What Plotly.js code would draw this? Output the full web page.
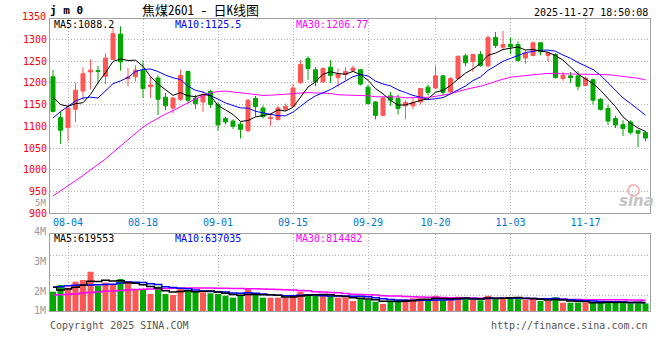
<!DOCTYPE html>
<html><head><meta charset="utf-8">
<script src="https://cdn.plot.ly/plotly-3.0.1.min.js"></script>
<style>html,body{margin:0;padding:0;background:#fff}#chart{width:660px;height:360px}</style>
</head><body><div id="chart"></div>
<script>
// ---- data ----
const dates = ['07-31','08-01',
 '08-04','08-05','08-06','08-07','08-08','08-11','08-12','08-13','08-14','08-15',
 '08-18','08-19','08-20','08-21','08-22','08-25','08-26','08-27','08-28','08-29',
 '09-01','09-02','09-03','09-04','09-05','09-08','09-09','09-10','09-11','09-12',
 '09-15','09-16','09-17','09-18','09-19','09-22','09-23','09-24','09-25','09-26',
 '09-29','09-30','10-09','10-10','10-13','10-14','10-15','10-16','10-17',
 '10-20','10-21','10-22','10-23','10-24','10-27','10-28','10-29','10-30','10-31',
 '11-03','11-04','11-05','11-06','11-07','11-10','11-11','11-12','11-13','11-14',
 '11-17','11-18','11-19','11-20','11-21','11-24','11-25','11-26','11-27'];
const openP  = [1214,1120,1097,1139,1181,1225,1228,1215,1254,1312,1210,1214,1228,1191,1211,1167,1142,1162,1226,1165,
                1156,1180,1150,1118,1112,1105,1090,1164,1142,1118,1116,1139,1146,1200,1256,1230,1202,1236,1212,1219,
                1228,1230,1190,1156,1125,1170,1164,1147,1147,1156,1190,1188,1216,1179,1210,1262,1249,1265,1239,1304,
                1282,1288,1288,1257,1263,1292,1263,1265,1210,1216,1216,1194,1207,1162,1141,1118,1104,1110,1090,1086];
const highP  = [1230,1133,1150,1200,1236,1254,1239,1268,1327,1330,1234,1240,1252,1215,1217,1177,1167,1230,1228,1172,
                1180,1184,1156,1122,1116,1110,1163,1170,1148,1129,1147,1152,1198,1252,1261,1236,1236,1252,1233,1236,
                1240,1232,1196,1158,1167,1179,1173,1160,1165,1188,1196,1240,1218,1213,1263,1267,1267,1273,1309,1317,
                1319,1304,1295,1275,1295,1293,1270,1268,1225,1225,1227,1213,1210,1165,1150,1124,1114,1114,1092,1089];
const lowP   = [1132,1060,1066,1110,1161,1185,1197,1197,1252,1228,1192,1203,1165,1165,1126,1137,1130,1158,1152,1140,
                1133,1142,1090,1104,1094,1072,1086,1122,1118,1101,1113,1135,1144,1198,1207,1192,1200,1200,1190,1206,
                1225,1194,1150,1116,1124,1147,1127,1116,1139,1150,1171,1185,1171,1177,1207,1238,1225,1237,1236,1280,
                1275,1266,1249,1244,1261,1263,1248,1210,1204,1200,1183,1192,1150,1136,1103,1096,1078,1081,1052,1066];
const closeP = [1134,1091,1142,1183,1221,1229,1226,1257,1313,1248,1213,1229,1187,1195,1162,1147,1165,1217,1160,1152,
                1173,1150,1103,1110,1100,1093,1160,1145,1122,1120,1142,1146,1188,1242,1233,1202,1233,1217,1221,1226,
                1234,1197,1152,1125,1165,1160,1141,1155,1155,1187,1178,1216,1178,1210,1261,1246,1265,1240,1304,1286,
                1288,1283,1251,1269,1292,1271,1269,1212,1217,1212,1192,1211,1160,1139,1112,1103,1095,1086,1084,1073];
const volume = [1460000,1970000,1760000,2220000,2340000,2970000,1910000,2140000,1970000,2420000,
                2270000,1660000,1590000,1290000,1840000,1290000,1210000,1720000,1590000,1510000,
                1410000,1340000,1290000,1160000,1010000,1160000,1660000,1290000,1010000,1010000,
                1010000,1010000,1210000,1460000,1290000,1160000,1130000,1130000,1010000,1010000,
                 760000, 910000, 830000, 700000, 530000, 700000, 810000, 910000, 960000, 960000,
                 830000,1150000, 830000, 830000,1080000,1000000, 830000, 810000,1150000,1020000,
                1000000,1020000, 900000, 830000, 950000, 760000, 760000,1030000, 630000, 630000,
                 640000, 640000, 610000, 620000, 760000, 600000, 680000, 590000, 660000, 570000];
// moving-average values at the left edge (their windows start before the first bar)
const ma5Lead  = [1167,1150,1146,1152];
const ma10Lead = [1119,1134,1146,1158,1165,1167,1165,1182,1198];
const ma30Lead = [940,951,962,975,987,999,1012,1025,1040,1055,1070,1085,1098,1109,1119,1128,1136,1145,1155,1163,
                  1170,1177,1180,1181,1179,1177,1174,1172,1171];
const volMa5Lead  = [1790000,1590000,1660000,1800000];
const volMa10Lead = [1790000,1840000,1900000,1950000,1970000,1970000,1990000,2010000,2020000];
const volMa30Lead = [1210000,1230000,1260000,1290000,1360000,1400000,1440000,1490000,1520000,1550000,
                     1580000,1620000,1650000,1670000,1690000,1710000,1720000,1720000,1730000,1730000,
                     1730000,1730000,1720000,1720000,1710000,1700000,1690000,1680000,1660000];
const tickDates  = ['08-04','08-18','09-01','09-15','09-29','10-20','11-03','11-17'];
const priceTicks = [900,950,1000,1050,1100,1150,1200,1250,1300];
const priceTopLabel = 1350;
const volLabels = ['5M','4M','3M','2M','1M'];
const maPriceText = ['MA5:1088.2','MA10:1125.5','MA30:1206.77'];
const maVolText   = ['MA5:619553','MA10:637035','MA30:814482'];

// ---- helpers ----
function movingAverage(values, n, lead) {
  return values.map((v, i) => {
    if (i < n - 1) return lead[i];
    let s = 0;
    for (let k = i - n + 1; k <= i; k++) s += values[k];
    return s / n;
  });
}
const RED = '#ff5656', GREEN = '#00a800';
const MONO = '"DejaVu Sans Mono", monospace';
const CJK = '"Noto Sans Mono CJK SC", "Noto Sans CJK SC", sans-serif';
const GRID = '#b4b4b4', FRAME = '#a0a0a0';
const MA_COLORS = ['#000000', '#0000ff', '#ff00ff'];

const ma5 = movingAverage(closeP, 5, ma5Lead);
const ma10 = movingAverage(closeP, 10, ma10Lead);
const ma30 = movingAverage(closeP, 30, ma30Lead);
const vma5 = movingAverage(volume, 5, volMa5Lead);
const vma10 = movingAverage(volume, 10, volMa10Lead);
const vma30 = movingAverage(volume, 30, volMa30Lead);
const volColors = closeP.map((c, i) => (c >= openP[i] ? RED : GREEN));

const traces = [
  {type:'candlestick', x:dates, open:openP, high:highP, low:lowP, close:closeP,
   xaxis:'x', yaxis:'y', whiskerwidth:0, hoverinfo:'none',
   increasing:{line:{color:RED, width:1}, fillcolor:RED},
   decreasing:{line:{color:GREEN, width:1}, fillcolor:GREEN}},
  {type:'scatter', mode:'lines', x:dates, y:ma30, xaxis:'x', yaxis:'y', line:{color:MA_COLORS[2], width:1}, hoverinfo:'none'},
  {type:'scatter', mode:'lines', x:dates, y:ma10, xaxis:'x', yaxis:'y', line:{color:MA_COLORS[1], width:1}, hoverinfo:'none'},
  {type:'scatter', mode:'lines', x:dates, y:ma5, xaxis:'x', yaxis:'y', line:{color:MA_COLORS[0], width:1}, hoverinfo:'none'},
  {type:'bar', x:dates, y:volume, xaxis:'x2', yaxis:'y2', width:0.8, marker:{color:volColors, line:{width:0}}, hoverinfo:'none'},
  {type:'scatter', mode:'lines', x:dates, y:vma30, xaxis:'x2', yaxis:'y2', line:{color:MA_COLORS[2], width:1.5, shape:'hvh'}, hoverinfo:'none'},
  {type:'scatter', mode:'lines', x:dates, y:vma10, xaxis:'x2', yaxis:'y2', line:{color:MA_COLORS[1], width:1.5, shape:'hvh'}, hoverinfo:'none'},
  {type:'scatter', mode:'lines', x:dates, y:vma5, xaxis:'x2', yaxis:'y2', line:{color:MA_COLORS[0], width:1.5, shape:'hvh'}, hoverinfo:'none'}
];

// pixel layout helpers (plot area: x 50..650, y 19..311)
const PX = (px) => (px - 50) / 600;
const PY = (py) => (311 - py) / 292;

const axisCommon = {showline:true, mirror:true, linecolor:FRAME, linewidth:1, zeroline:false,
  showgrid:true, gridcolor:GRID, griddash:'1px,2px', gridwidth:1, ticks:'', fixedrange:true};

const annotations = [];
function note(text, x, y, xanchor, font, extra) {
  annotations.push(Object.assign({text, x, y, xref:'paper', yref:'paper', xanchor, yanchor:'middle',
    showarrow:false, font, borderpad:0}, extra || {}));
}
note('j m 0', PX(49), PY(11), 'left', {family:MONO, size:11, color:'#000', weight:'bold'});
note('焦煤2601 - 日K线图', PX(200), PY(10), 'center', {family:CJK, size:13, color:'#000'});
note('2025-11-27 18:50:08', PX(649), PY(12), 'right', {family:MONO, size:10, color:'#000'});
const maX = [53, 174, 295];
maPriceText.forEach((t, k) => note(t, PX(maX[k]), PY(25), 'left', {family:MONO, size:10, color:MA_COLORS[k]}));
maVolText.forEach((t, k) => note(t, PX(maX[k]), PY(238.5), 'left', {family:MONO, size:10, color:MA_COLORS[k]}));
note(String(priceTopLabel), PX(47), PY(16), 'right', {family:MONO, size:10, color:'#ff0000'});
const volLabelY = [202.5, 231, 261, 291, 310];
const volLabelSize = [9, 10, 10, 10, 10];
volLabels.forEach((t, k) => note(t, PX(47), PY(volLabelY[k]), 'right', {family:MONO, size:volLabelSize[k], color:'#999'}));
note('Copyright 2025 SINA.COM', PX(49), PY(325), 'left', {family:MONO, size:10, color:'#555'});
note('http://finance.sina.com.cn', PX(649), PY(325), 'right', {family:MONO, size:10, color:'#555'});
note('sina', PX(636), PY(201), 'center', {family:'DejaVu Sans', size:15, color:'#c4c4c4', weight:'bold', style:'italic'});

const layout = {
  width:660, height:360,
  margin:{l:50, r:10, t:19, b:49, pad:0},
  paper_bgcolor:'#fff', plot_bgcolor:'#fff',
  showlegend:false, boxgap:0.24, bargap:0.2,
  xaxis:Object.assign({}, axisCommon, {type:'category', anchor:'y', range:[-0.4, 79.6],
    tickvals:tickDates, ticktext:tickDates, rangeslider:{visible:false},
    tickfont:{family:MONO, size:10, color:'#0078d7'}}),
  yaxis:Object.assign({}, axisCommon, {domain:[PY(213.3), 1], range:[900, 1346.7], anchor:'x',
    tickvals:priceTicks, tickfont:{family:MONO, size:10, color:'#ff0000'}}),
  xaxis2:Object.assign({}, axisCommon, {type:'category', anchor:'y2', range:[-0.4, 79.6],
    tickvals:tickDates, showticklabels:false}),
  yaxis2:Object.assign({}, axisCommon, {domain:[0, PY(234.3)], range:[0, 5800000], anchor:'x2',
    tickvals:[1187000, 2700000, 4210000], showticklabels:false}),
  shapes:[{type:'circle', xref:'paper', yref:'paper', x0:PX(628), x1:PX(639), y0:PY(196), y1:PY(185),
    line:{color:'#f2b8b8', width:2}}],
  annotations
};
Plotly.newPlot('chart', traces, layout, {staticPlot:true, displayModeBar:false});
</script></body></html>
